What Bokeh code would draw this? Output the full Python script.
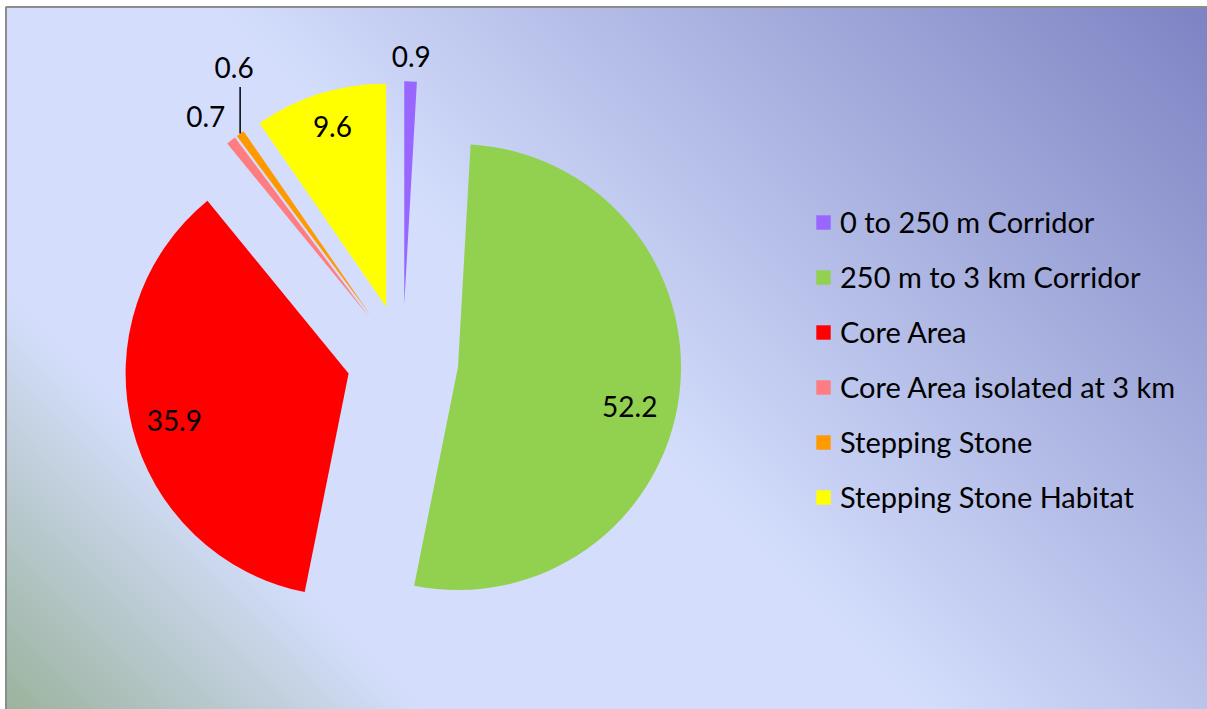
import numpy as np
from bokeh.plotting import figure
from bokeh.models import ColumnDataSource, Range1d
from bokeh.core.properties import value
from bokeh.embed import file_html
from bokeh.resources import INLINE

# ---- data ----
categories = ["0 to 250 m Corridor", "250 m to 3 km Corridor", "Core Area",
              "Core Area isolated at 3 km", "Stepping Stone", "Stepping Stone Habitat"]
values = [0.9, 52.2, 35.9, 0.7, 0.6, 9.6]
labels = ["0.9", "52.2", "35.9", "0.7", "0.6", "9.6"]

# ---- style ----
colors = ["#9966FF", "#92D050", "#FF0000", "#FF7C80", "#FF9900", "#FFFF00"]
W, H = 1207, 709
CX, CY, R = 402.2, H - 359.5, 223.0
explode = 0.25 * R
label_k = [1.11, 0.79, 0.81, 1.155, 1.0, 0.84]
label_dx = [0, -3, 1, -4, -6, 2]
label_dy = [0, -17, -3, -3, 65.6, 1]
FONT = "Lato"
BX, BY = 6, 7  # chart border offset from the top-left corner

vals = np.array(values, dtype=float)
frac = vals / vals.sum()
end = np.cumsum(frac) * 2 * np.pi
start = end - frac * 2 * np.pi
mid = (start + end) / 2
cx = CX + explode * np.sin(mid)
cy = CY + explode * np.cos(mid)
lx = cx + np.array(label_k) * R * np.sin(mid) + np.array(label_dx)
ly = cy + np.array(label_k) * R * np.cos(mid) + np.array(label_dy)

src = ColumnDataSource(dict(
    name=categories, x=cx, y=cy,
    start=np.pi / 2 - end, end=np.pi / 2 - start,
    color=colors,
))
lab_src = ColumnDataSource(dict(x=lx, y=ly, text=labels))

p = figure(width=W, height=H, output_backend="svg", toolbar_location=None,
           x_range=Range1d(0, W), y_range=Range1d(0, H),
           x_axis_type=None, y_axis_type=None, min_border=0,
           outline_line_color=None, background_fill_color="white",
           border_fill_color="white")
p.grid.visible = False

# background gradient (diagonal: green-grey bottom-left -> light blue -> purple top-right)
GW, GH = W - BX, H - BY
nx, ny = 600, 352
gx = BX + (np.arange(nx) + 0.5) * GW / nx
gy = (np.arange(ny) + 0.5) * GH / ny
X, Y = np.meshgrid(gx, gy)
img_y = H - Y
t = (X - img_y + 709) / 1916.0
stops = [0.0, 0.22, 0.48, 1.0]
rc = [155, 212, 212, 125]
gc = [179, 222, 222, 131]
bc = [157, 252, 252, 195]
rgba = np.zeros((ny, nx, 4), dtype=np.uint8)
rgba[..., 0] = np.interp(t, stops, rc)
rgba[..., 1] = np.interp(t, stops, gc)
rgba[..., 2] = np.interp(t, stops, bc)
rgba[..., 3] = 255
img = rgba.view(np.uint32).reshape(ny, nx)
p.image_rgba(image=[img], x=BX, y=0, dw=GW, dh=GH)

# chart border (top and left visible)
p.line(x=[BX - 0.5, BX - 0.5, W], y=[0, H - BY + 0.5, H - BY + 0.5],
       line_color="#8c8c8c", line_width=2)

p.wedge(x="x", y="y", radius=R, start_angle="start", end_angle="end",
        fill_color="color", line_color=None, source=src, legend_field="name")

# leader line for the "0.6" label
i_or = 4
ox = cx[i_or] + R * np.sin(mid[i_or])
oy = cy[i_or] + R * np.cos(mid[i_or])
p.segment(x0=[ox], y0=[oy], x1=[ox], y1=[ly[i_or] - 19], line_color="black", line_width=1.5)

p.text(x="x", y="y", text="text", source=lab_src, text_font=value(FONT),
       text_font_size="28px", text_align="center", text_baseline="middle",
       text_color="black")

lg = p.legend[0]
lg.location = (814, 195)
lg.border_line_color = None
lg.background_fill_alpha = 0
lg.label_text_font = FONT
lg.label_text_font_size = "29px"
lg.label_text_color = "black"
lg.glyph_width = 18
lg.glyph_height = 18
lg.label_standoff = 8
lg.label_height = 35
lg.spacing = 20
lg.padding = 0
lg.margin = 0

open("out.html", "w").write(file_html(p, INLINE))
